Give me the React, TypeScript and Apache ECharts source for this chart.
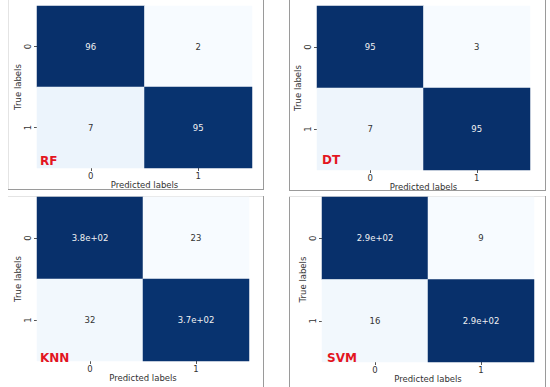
import React, { useEffect, useRef } from "react";
import * as echarts from "echarts";

const predictedLabels = ["0", "1"];
const trueLabels = ["0", "1"];
const modelNames = ["RF", "DT", "KNN", "SVM"];
const rfMatrix = [
  [96, 2],
  [7, 95],
];
const dtMatrix = [
  [95, 3],
  [7, 95],
];
const knnMatrix = [
  [376, 23],
  [32, 372],
];
const svmMatrix = [
  [290, 9],
  [16, 290],
];
const matrices = [rfMatrix, dtMatrix, knnMatrix, svmMatrix];

const blues = [
  "#f7fbff",
  "#deebf7",
  "#c6dbef",
  "#9ecae1",
  "#6baed6",
  "#4292c6",
  "#2171b5",
  "#08519c",
  "#08306b",
];

// panel layout (pixels)
const grids = [
  { left: 37, top: 6, width: 215, height: 162 },
  { left: 317, top: 6, width: 213, height: 164 },
  { left: 37, top: 197, width: 212, height: 164 },
  { left: 322, top: 197, width: 212, height: 165 },
];
const tagPos = [
  { x: 40, y: 161 },
  { x: 322, y: 160 },
  { x: 40, y: 358 },
  { x: 327, y: 358 },
];

function fmtG2(v: number): string {
  if (Math.abs(v) >= 100) {
    const s = v.toExponential(1);
    const [m, e] = s.split("e");
    const sign = e[0] === "-" ? "-" : "+";
    const digits = e.replace(/[+-]/, "").padStart(2, "0");
    return `${m}e${sign}${digits}`;
  }
  return String(Number(v.toPrecision(2)));
}

const FONT = "DejaVu Sans";

export default function App() {
  const ref = useRef<HTMLDivElement>(null);
  useEffect(() => {
    document.body.style.margin = "0";
    if (!ref.current) return;
    const chart = echarts.init(ref.current, undefined, { renderer: "svg" });

    const grid: any[] = [];
    const xAxis: any[] = [];
    const yAxis: any[] = [];
    const series: any[] = [];
    const visualMap: any[] = [];

    matrices.forEach((m, i) => {
      const g = grids[i];
      grid.push({ left: g.left, top: g.top, width: g.width, height: g.height });
      xAxis.push({
        type: "category",
        gridIndex: i,
        data: predictedLabels,
        name: "Predicted labels",
        nameLocation: "middle",
        nameGap: 11,
        nameTextStyle: { fontFamily: FONT, fontSize: 8.5, color: "#333" },
        axisLine: { show: false },
        axisTick: { show: true, alignWithLabel: true, length: 3, lineStyle: { color: "#555" } },
        axisLabel: { fontFamily: FONT, fontSize: 8.5, color: "#333", margin: 3 },
        splitLine: { show: false },
      });
      yAxis.push({
        type: "category",
        gridIndex: i,
        data: trueLabels,
        inverse: true,
        name: "True labels",
        nameLocation: "middle",
        nameGap: 15,
        nameRotate: 90,
        nameTextStyle: { fontFamily: FONT, fontSize: 8.5, color: "#333" },
        axisLine: { show: false },
        axisTick: { show: true, alignWithLabel: true, length: 3, lineStyle: { color: "#555" } },
        axisLabel: { fontFamily: FONT, fontSize: 8.5, color: "#333", rotate: 90, margin: 5 },
        splitLine: { show: false },
      });
      const flat = m.flat();
      const mn = Math.min(...flat);
      const mx = Math.max(...flat);
      const data: any[] = [];
      m.forEach((row, r) =>
        row.forEach((v, c) =>
          data.push({
            value: [c, r, v],
            label: { color: (v - mn) / (mx - mn) > 0.5 ? "#f2f2f2" : "#333" },
          })
        )
      );
      visualMap.push({
        show: false,
        type: "continuous",
        seriesIndex: i,
        dimension: 2,
        min: mn,
        max: mx,
        inRange: { color: blues },
      });
      series.push({
        type: "heatmap",
        xAxisIndex: i,
        yAxisIndex: i,
        data,
        label: {
          show: true,
          fontFamily: FONT,
          fontSize: 8.5,
          formatter: (p: any) => fmtG2(p.value[2]),
        },
      });
    });

    const frame = { stroke: "#9a9a9a", lineWidth: 1 };
    const faint = { stroke: "#e4e4e4", lineWidth: 1 };
    const graphic: any[] = [
      // top-left frame
      { type: "line", shape: { x1: 8.5, y1: 0, x2: 8.5, y2: 189 }, style: faint },
      { type: "line", shape: { x1: 8, y1: 189.5, x2: 263, y2: 189.5 }, style: frame },
      { type: "line", shape: { x1: 263.5, y1: 0, x2: 263.5, y2: 190 }, style: frame },
      // top-right frame
      { type: "line", shape: { x1: 289.5, y1: 0, x2: 289.5, y2: 190 }, style: frame },
      { type: "line", shape: { x1: 289, y1: 190.5, x2: 545, y2: 190.5 }, style: frame },
      { type: "line", shape: { x1: 545.5, y1: 0, x2: 545.5, y2: 191 }, style: frame },
      // bottom-left frame
      { type: "line", shape: { x1: 8, y1: 196.5, x2: 263, y2: 196.5 }, style: faint },
      { type: "line", shape: { x1: 263.5, y1: 196, x2: 263.5, y2: 387 }, style: frame },
      // bottom-right frame
      { type: "line", shape: { x1: 289.5, y1: 196, x2: 289.5, y2: 387 }, style: frame },
      { type: "line", shape: { x1: 289, y1: 196.5, x2: 545, y2: 196.5 }, style: faint },
      { type: "line", shape: { x1: 545.5, y1: 196, x2: 545.5, y2: 387 }, style: frame },
    ];
    modelNames.forEach((n, i) => {
      graphic.push({
        type: "text",
        x: tagPos[i].x,
        y: tagPos[i].y,
        z: 100,
        style: {
          text: n,
          fill: "#e3151f",
          font: `bold 12px ${FONT}`,
          verticalAlign: "middle",
        },
      });
    });

    chart.setOption({
      animation: false,
      backgroundColor: "#ffffff",
      grid,
      xAxis,
      yAxis,
      visualMap,
      series,
      graphic,
    });
    return () => chart.dispose();
  }, []);
  return <div ref={ref} style={{ width: 550, height: 387 }} />;
}
